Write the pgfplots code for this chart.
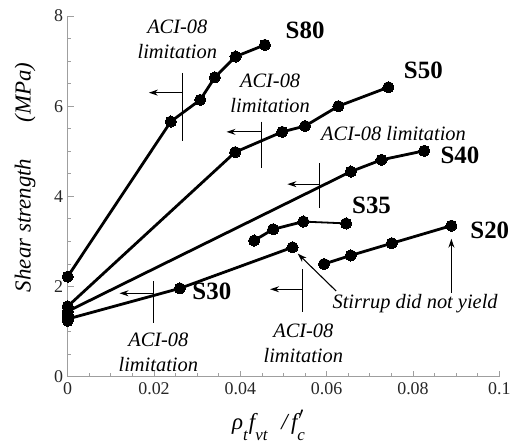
\documentclass[border=0pt]{standalone}
\usepackage{pgfplots}
\pgfplotsset{compat=1.18}
\usepackage{fontspec}
\setmainfont{Liberation Serif}
\usetikzlibrary{arrows.meta}

\begin{document}
\begin{tikzpicture}
\pgfplotsset{ser/.style={black, solid, line width=2.8bp, mark=*, mark size=5.6bp,
    mark options={solid, fill=black, draw=black, line width=0pt}}}
\begin{axis}[
  name=ax,
  scale only axis, width=431.6bp, height=360.7bp,
  xmin=0, xmax=0.1, ymin=0, ymax=8,
  axis x line=bottom, axis y line=left,
  axis line style={-, draw=gray!75, line width=0.8bp},
  xtick={0,0.02,0.04,0.06,0.08,0.1},
  xticklabels={0,0.02,0.04,0.06,0.08,0.1},
  ytick={0,2,4,6,8}, yticklabels={0,2,4,6,8},
  minor x tick num=3, minor y tick num=3,
  tick align=inside,
  major tick length=6bp, minor tick length=3.5bp,
  tick style={draw=gray!75, line width=0.8bp},
  tick label style={font=\fontsize{18}{20}\selectfont, text=black!85},
  xticklabel style={yshift=-2bp},
  yticklabel style={xshift=-1bp},
  clip=false,
]
% S80
\addplot[ser] coordinates {(0,2.22) (0.0239,5.66) (0.0307,6.14) (0.0341,6.64) (0.0389,7.10) (0.0457,7.36)};
% S50
\addplot[ser] coordinates {(0,1.56) (0.0388,4.98) (0.0497,5.43) (0.0550,5.56) (0.0627,6.00) (0.0743,6.42)};
% S40
\addplot[ser] coordinates {(0,1.45) (0.0656,4.55) (0.0727,4.81) (0.0826,5.01)};
% S35
\addplot[ser] coordinates {(0.0432,3.02) (0.0476,3.27) (0.0546,3.44)};
\addplot[ser, line width=1.8bp] coordinates {(0.0546,3.44) (0.0645,3.40)};
% S30
\addplot[ser] coordinates {(0,1.28) (0.0260,1.96) (0.0521,2.87)};
% S20
\addplot[ser] coordinates {(0.0594,2.50) (0.0656,2.69) (0.0751,2.96) (0.0889,3.35)};
% remaining specimens without stirrups
\addplot[ser, only marks] coordinates {(0,1.37) (0,1.24)};

% ACI-08 limits
\begin{scope}[line width=1.1bp]
\draw (axis cs:0.0267,6.74) -- (axis cs:0.0267,5.23);
\draw[-{Stealth[length=9bp,width=6bp]}] (axis cs:0.0267,6.30) -- (axis cs:0.0188,6.30);
\draw (axis cs:0.0448,5.66) -- (axis cs:0.0448,4.63);
\draw[-{Stealth[length=9bp,width=6bp]}] (axis cs:0.0448,5.43) -- (axis cs:0.0368,5.43);
\draw (axis cs:0.0583,4.73) -- (axis cs:0.0583,3.74);
\draw[-{Stealth[length=9bp,width=6bp]}] (axis cs:0.0583,4.27) -- (axis cs:0.0509,4.27);
\draw (axis cs:0.0198,2.12) -- (axis cs:0.0198,1.18);
\draw[-{Stealth[length=9bp,width=6bp]}] (axis cs:0.0198,1.85) -- (axis cs:0.0120,1.85);
\draw (axis cs:0.0544,2.38) -- (axis cs:0.0544,1.44);
\draw[-{Stealth[length=9bp,width=6bp]}] (axis cs:0.0544,1.94) -- (axis cs:0.0469,1.94);
% stirrup notes
\draw[-{Stealth[length=9bp,width=6bp]}] (axis cs:0.0622,1.90) -- (axis cs:0.0533,2.73);
\draw[-{Stealth[length=9bp,width=6bp]}] (axis cs:0.0889,1.86) -- (axis cs:0.0889,3.06);
\end{scope}

\begin{scope}[every node/.style={font=\itshape\fontsize{20.5}{25}\selectfont, align=center, inner sep=0pt}]
\node at (axis cs:0.0254,7.48) {ACI-08\\limitation};
\node at (axis cs:0.0469,6.28) {ACI-08\\limitation};
\node at (axis cs:0.0755,5.40) {ACI-08 limitation};
\node at (axis cs:0.0210,0.55) {ACI-08\\limitation};
\node at (axis cs:0.0546,0.74) {ACI-08\\limitation};
\node at (axis cs:0.0805,1.63) {Stirrup did not yield};
\end{scope}

\begin{scope}[every node/.style={font=\bfseries\fontsize{25}{28}\selectfont, inner sep=0pt}]
\node at (axis cs:0.0550,7.69) {S80};
\node at (axis cs:0.0824,6.80) {S50};
\node at (axis cs:0.0909,4.92) {S40};
\node at (axis cs:0.0704,3.81) {S35};
\node at (axis cs:0.0978,3.25) {S20};
\node at (axis cs:0.0334,1.89) {S30};
\end{scope}

% axis titles
\node[rotate=90, font=\itshape\fontsize{23}{26}\selectfont, inner sep=0pt]
  at ([xshift=-42.7bp]axis cs:0,4.42) {Shear strength\hspace{36bp}(MPa)};
\node[anchor=base, font=\itshape\fontsize{23}{26}\selectfont, inner sep=0pt]
  at (axis cs:0.0464,-1.18)
  {ρ\lower0.45em\hbox{\fontsize{17}{18}\selectfont t}\kern0.05em
   f\lower0.45em\hbox{\fontsize{17}{18}\selectfont vt}\hspace{0.6em}/\hspace{0.15em}%
   f\rlap{\lower0.45em\hbox{\fontsize{17}{18}\selectfont c}}\kern0.05em\raise0.05em\hbox{$'$}};
\end{axis}
\pgfresetboundingbox
\path ([shift={(-67.7bp,-70.3bp)}]ax.south west) rectangle ([shift={(13.7bp,16bp)}]ax.north east);
\end{tikzpicture}
\end{document}
